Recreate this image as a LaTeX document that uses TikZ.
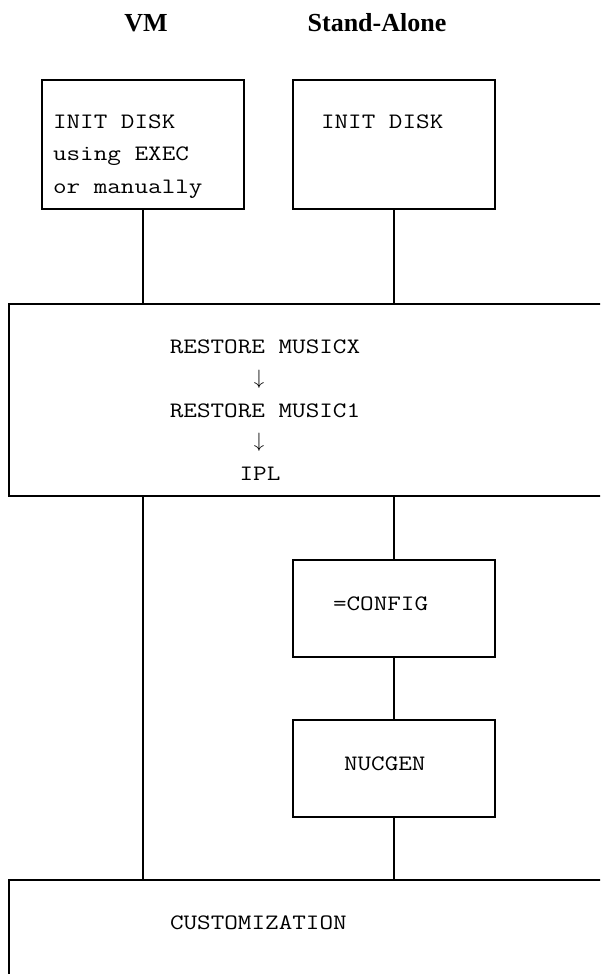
\documentclass[tikz,border=0pt]{standalone}
\usepackage{fontspec}
\usepackage{graphicx}
\setmainfont{Liberation Serif}
\usetikzlibrary{calc}
\newcommand{\boxfont}{\ttfamily\fontsize{22}{22}\selectfont}
\newcommand{\wide}[1]{\scalebox{1.2}[1]{#1}}

\begin{document}
\begin{tikzpicture}[x=1pt, y=-1pt, line width=2pt,
  box/.style={draw, rectangle, inner sep=0pt},
  txt/.style={anchor=base west, inner sep=0pt, font=\boxfont},
  ctxt/.style={anchor=base, inner sep=0pt, font=\boxfont},
  head/.style={anchor=base, inner sep=0pt, font=\bfseries\fontsize{26}{26}\selectfont}]
  % page is 600 x 974, the wide boxes run out past the right and lower edge
  \useasboundingbox (0,0) rectangle (600,974);
  \clip (0,0) rectangle (600,974);
  % column heads
  \node[head] (vmhead) at (146,32) {VM};
  \node[head] (sahead) at (377,32) {Stand-Alone};
  % boxes
  \node[box, minimum width=202pt, minimum height=129pt] (vminit) at (143,144.5) {};
  \node[box, minimum width=202pt, minimum height=129pt] (sainit) at (394,144.5) {};
  \node[box, minimum width=611pt, minimum height=192pt] (restore) at (314.5,400) {};
  \node[box, minimum width=202pt, minimum height=97pt] (config) at (394,608.5) {};
  \node[box, minimum width=202pt, minimum height=97pt] (nucgen) at (394,768.5) {};
  \node[box, minimum width=611pt, minimum height=120pt] (custom) at (314.5,940) {};
  % texts
  \node[txt] (vmline1) at (52,128) {\wide{INIT DISK}};
  \node[txt] (vmline2) at (52,160.5) {\wide{using EXEC}};
  \node[txt] (vmline3) at (52,193) {\wide{or manually}};
  \node[txt] (saline) at (320,128) {\wide{INIT DISK}};
  \node[ctxt] (musicx) at (265,353) {\wide{RESTORE MUSICX}};
  \node[ctxt] (arrow1) at (259,384) {$\downarrow$};
  \node[ctxt] (music1) at (265,417) {\wide{RESTORE MUSIC1}};
  \node[ctxt] (arrow2) at (259,447) {$\downarrow$};
  \node[ctxt] (ipl) at (260,480) {\wide{IPL}};
  \node[txt] (configtxt) at (332,610) {\wide{=CONFIG}};
  \node[txt] (nucgentxt) at (343,770) {\wide{NUCGEN}};
  \node[txt] (customtxt) at (169,929) {\wide{CUSTOMIZATION}};
  % connectors
  \draw (vminit.south) -- (vminit.south |- restore.north);
  \draw (sainit.south) -- (sainit.south |- restore.north);
  \draw (restore.south -| vminit) -- (custom.north -| vminit);
  \draw (restore.south -| config) -- (config.north);
  \draw (config.south) -- (nucgen.north);
  \draw (nucgen.south) -- (custom.north -| nucgen);
\end{tikzpicture}
\end{document}
